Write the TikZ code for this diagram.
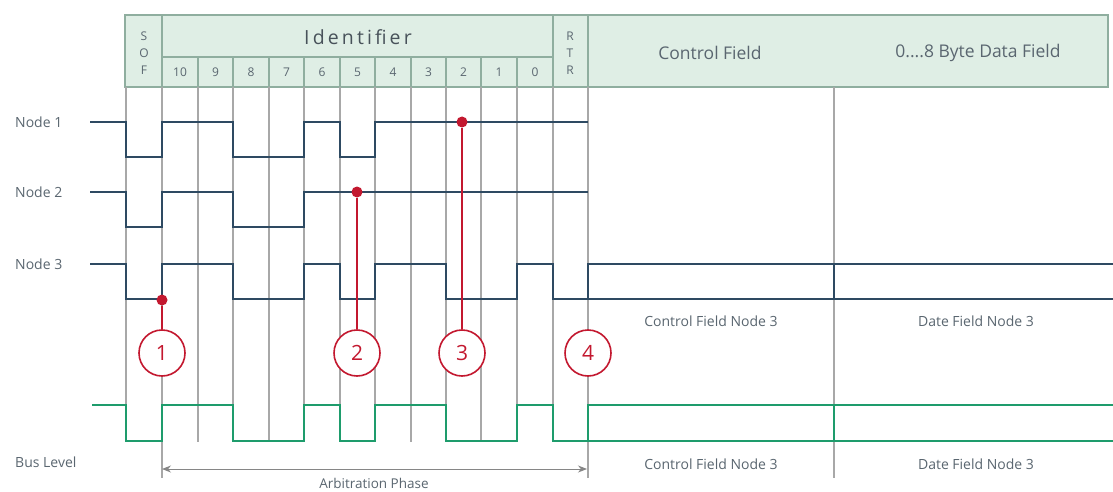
\documentclass[tikz,border=0pt]{standalone}
\usepackage{fontspec}
\setmainfont{Open Sans}
\newfontfamily\spacedfont[LetterSpace=16]{Open Sans}
\usetikzlibrary{arrows.meta}
\definecolor{sig}{HTML}{2E4A62}
\definecolor{busc}{HTML}{1E9C6C}
\definecolor{redc}{HTML}{C3182F}
\definecolor{gridc}{HTML}{A8A8A8}
\definecolor{hdrfill}{HTML}{DFEEE5}
\definecolor{hdrline}{HTML}{8FAE9F}
\definecolor{txt}{HTML}{5A6670}
\tikzset{
  gridline/.style={draw=gridc, line width=1.1pt},
  hdr/.style={draw=hdrline, line width=1.6pt},
  nodewave/.style={draw=sig, line width=2.6pt, line join=miter},
  buswave/.style={draw=busc, line width=2.6pt, line join=miter},
  lbl/.style={text=txt, font=\fontsize{14}{16}\selectfont, inner sep=0pt},
  hlbl/.style={text=txt, font=\fontsize{17.5}{19}\selectfont, inner sep=0pt},
  bitlbl/.style={text=txt, font=\fontsize{12}{13}\selectfont, inner sep=0pt},
  dotnode/.style={circle, fill=redc, minimum size=11pt, inner sep=0pt},
  numcircle/.style={circle, draw=redc, line width=1.6pt, fill=white, minimum size=46pt, inner sep=0pt, text=redc, font=\fontsize{21}{23}\selectfont},
  redline/.style={draw=redc, line width=2pt},
  dimline/.style={draw=gridc!80!black, line width=0.9pt, {Stealth[length=9pt,width=7pt]}-{Stealth[length=9pt,width=7pt]}}
}
\begin{document}
\begin{tikzpicture}[x=1pt,y=-1pt]
\useasboundingbox (0,0) rectangle (1113,492);
\fill[white] (0,0) rectangle (1113,492);

% header
\filldraw[fill=hdrfill, hdr] (125,15) rectangle (1108,87);
\draw[hdr] (162,15) -- (162,87);
\draw[hdr] (553,15) -- (553,87);
\draw[hdr] (588,15) -- (588,87);
\draw[hdr] (162,57) -- (553,57);
\foreach \x in {198,233,269,304,340,375,411,446,481,517}
  \draw[hdrline, line width=1.1pt] (\x,57) -- (\x,87);

\node[bitlbl] (s1) at (144,36) {S};
\node[bitlbl] (s2) at (144,53) {O};
\node[bitlbl] (s3) at (144,70) {F};
\node[bitlbl] (r1) at (570,36) {R};
\node[bitlbl] (r2) at (570,53) {T};
\node[bitlbl] (r3) at (570,70) {R};
\node[text=txt!80!black, inner sep=0pt, font=\fontsize{19.5}{21}\selectfont\spacedfont] (ident) at (358,37) {Identifier};
\foreach \n/\x in {10/180,9/215.5,8/251,7/286.5,6/322,5/357.5,4/393,3/428.5,2/463.5,1/499,0/535}
  \node[bitlbl] (b\n) at (\x,72) {\n};
\node[hlbl] (cf) at (710,53) {Control Field};
\node[hlbl] (df) at (978,53) {0....8 Byte Data Field};

% grid lines
\foreach \x in {126,198,233,269,304,340,375,411,446,481,517,553}
  \draw[gridline] (\x,87) -- (\x,442);
\foreach \x in {162,588,834}
  \draw[gridline] (\x,87) -- (\x,478);

% labels
\node[lbl, anchor=west] (n1) at (15,122) {Node 1};
\node[lbl, anchor=west] (n2) at (15,192) {Node 2};
\node[lbl, anchor=west] (n3) at (15,264) {Node 3};
\node[lbl, anchor=west] (bl) at (15,462) {Bus Level};

% waveforms
\draw[nodewave] (90,122) -- (126,122) -- (126,157) -- (162,157) -- (162,122) -- (233,122) -- (233,157) -- (304,157) -- (304,122) -- (340,122) -- (340,157) -- (375,157) -- (375,122) -- (588,122);
\draw[nodewave] (90,192) -- (126,192) -- (126,227) -- (162,227) -- (162,192) -- (233,192) -- (233,227) -- (304,227) -- (304,192) -- (588,192);
\draw[nodewave] (90,264) -- (126,264) -- (126,299) -- (162,299) -- (162,264) -- (233,264) -- (233,299) -- (304,299) -- (304,264) -- (340,264) -- (340,299) -- (375,299) -- (375,264) -- (446,264) -- (446,299) -- (517,299) -- (517,264) -- (553,264) -- (553,299) -- (1113,299);
\draw[nodewave] (588,299) -- (588,264) -- (1113,264);
\draw[nodewave] (834,264) -- (834,299);

\draw[buswave] (92,405) -- (126,405) -- (126,441) -- (162,441) -- (162,405) -- (233,405) -- (233,441) -- (304,441) -- (304,405) -- (340,405) -- (340,441) -- (375,441) -- (375,405) -- (446,405) -- (446,441) -- (517,441) -- (517,405) -- (553,405) -- (553,441) -- (1113,441);
\draw[buswave] (588,441) -- (588,405) -- (1113,405);
\draw[buswave] (834,405) -- (834,441);

% field labels
\node[lbl] (cf3a) at (711,321) {Control Field Node 3};
\node[lbl] (df3a) at (976,321) {Date Field Node 3};
\node[lbl] (cf3b) at (711,464) {Control Field Node 3};
\node[lbl] (df3b) at (976,464) {Date Field Node 3};

% circles and dots
\node[numcircle] (c1) at (162,353) {1};
\node[numcircle] (c2) at (357,353) {2};
\node[numcircle] (c3) at (462,353) {3};
\node[numcircle] (c4) at (588,353) {4};
\node[dotnode] (d1) at (162,300) {};
\node[dotnode] (d2) at (357,192) {};
\node[dotnode] (d3) at (462,122) {};
\draw[redline] (d1) -- (c1);
\draw[redline] (d2) -- (c2);
\draw[redline] (d3) -- (c3);

% arbitration phase
\coordinate (a1) at (162,469);
\coordinate (a2) at (587,469);
\draw[dimline] (a1) -- (a2);
\node[lbl, font=\fontsize{13.5}{15}\selectfont] (ap) at (374,483) {Arbitration Phase};
\end{tikzpicture}
\end{document}
